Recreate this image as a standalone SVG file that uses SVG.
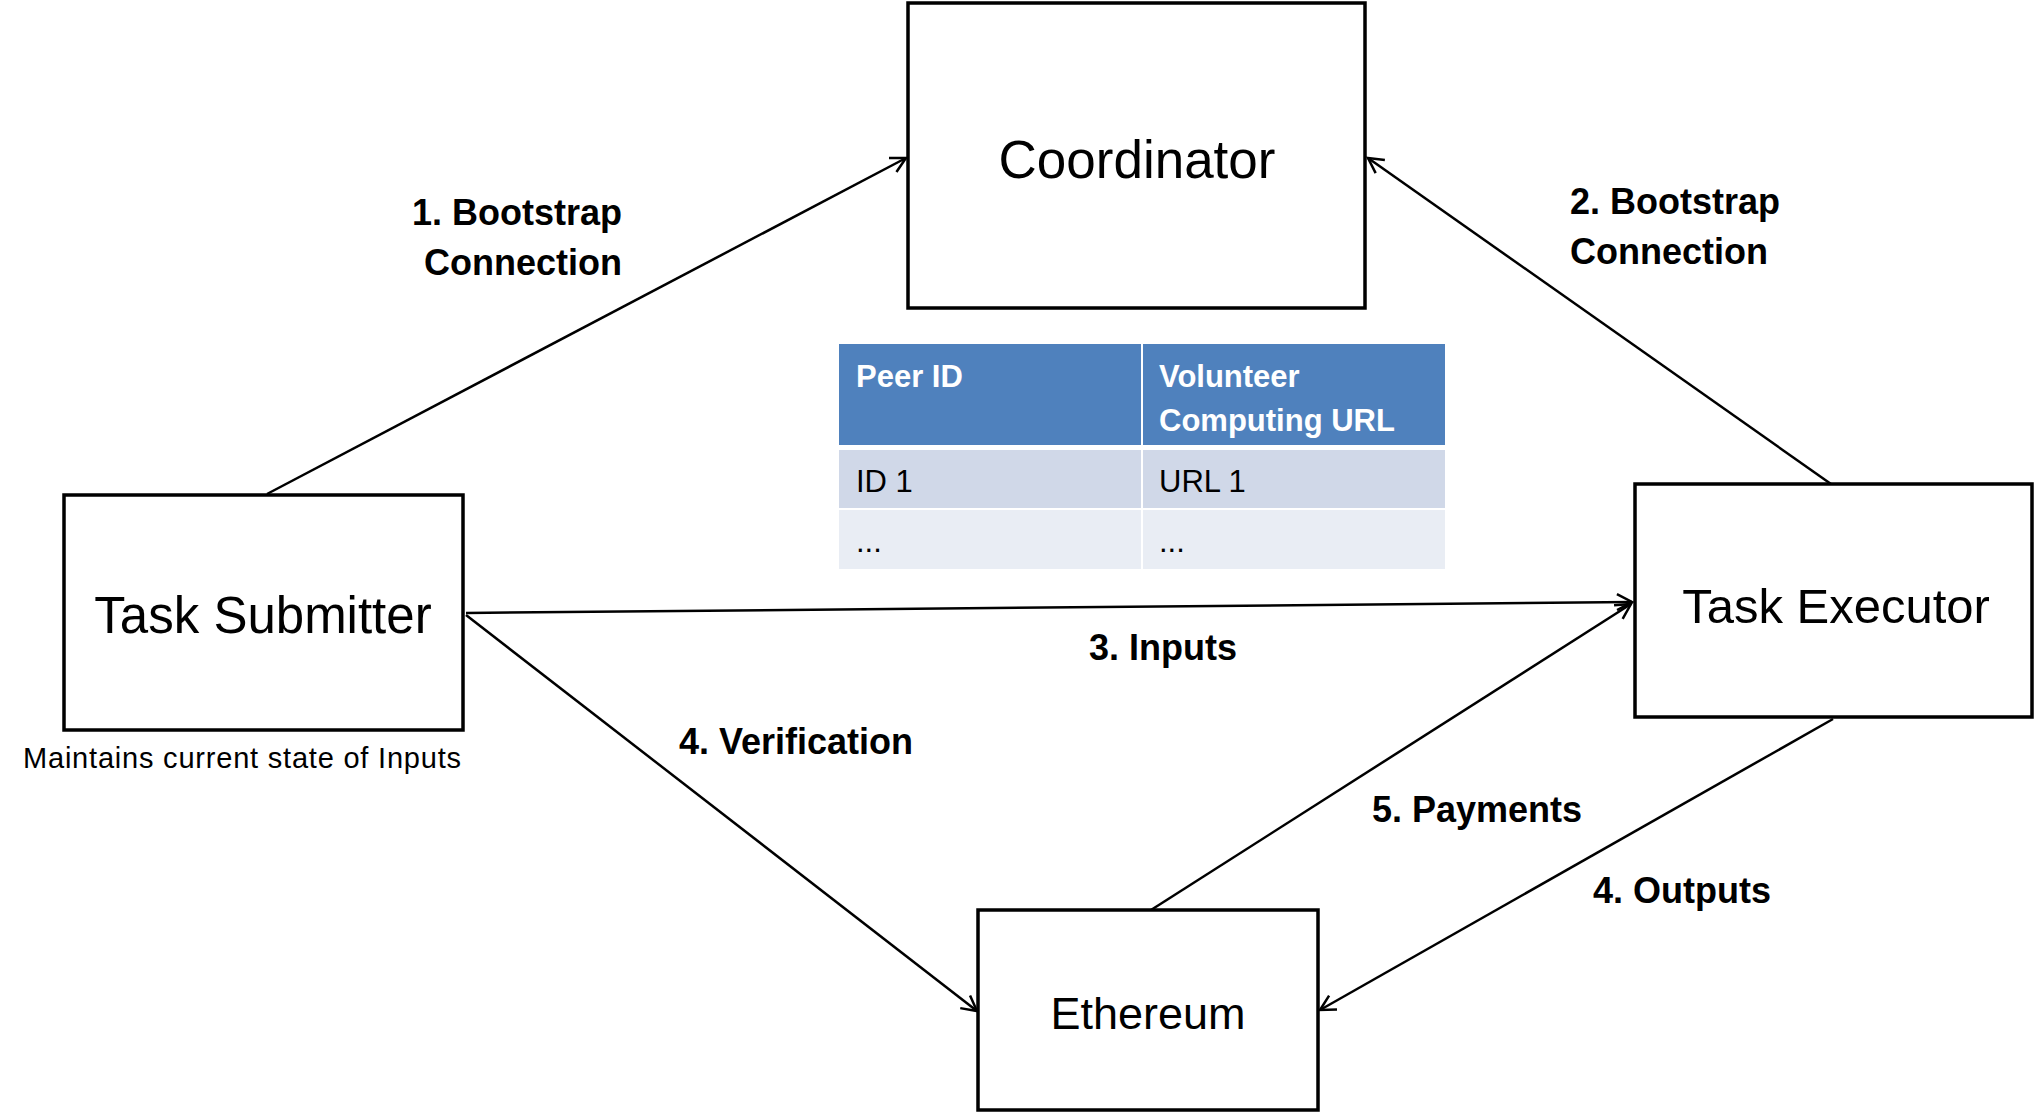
<svg xmlns="http://www.w3.org/2000/svg" width="2036" height="1114" viewBox="0 0 2036 1114">
<defs>
<style>
.box{fill:#fff;stroke:#000;stroke-width:3.5}
.node{font-family:"Liberation Sans",Arial,sans-serif;fill:#000;text-anchor:middle}
.lbl{font-family:"Liberation Sans",Arial,sans-serif;font-weight:bold;font-size:36px;fill:#000}
.conn{stroke:#000;stroke-width:2.5;fill:none;marker-end:url(#arr)}
.th{font-family:"Liberation Sans",Arial,sans-serif;font-weight:bold;font-size:31px;fill:#fff}
.td{font-family:"Liberation Sans",Arial,sans-serif;font-size:31px;fill:#000}
</style>
<marker id="arr" markerUnits="userSpaceOnUse" markerWidth="30" markerHeight="30" viewBox="-20 -15 30 30" refX="0" refY="0" orient="auto">
<path d="M-15,-8 L0,0 L-15,8" fill="none" stroke="#000" stroke-width="2.5"/>
</marker>
</defs>
<rect width="2036" height="1114" fill="#fff"/>

<g id="connectors">
<line class="conn" x1="267" y1="494" x2="906" y2="158"/>
<line class="conn" x1="1831" y1="484" x2="1368" y2="158"/>
<line class="conn" x1="466" y1="613" x2="1632" y2="602"/>
<line class="conn" x1="466" y1="615" x2="977" y2="1011"/>
<line class="conn" x1="1151" y1="910" x2="1631" y2="604"/>
<line class="conn" x1="1833" y1="719" x2="1320" y2="1010"/>
</g>

<g id="labels">
<text class="lbl" x="622" y="225" text-anchor="end">1. Bootstrap</text>
<text class="lbl" x="622" y="275" text-anchor="end">Connection</text>
<text class="lbl" x="1570" y="214">2. Bootstrap</text>
<text class="lbl" x="1570" y="264">Connection</text>
<text class="lbl" x="1089" y="660">3. Inputs</text>
<text class="lbl" x="679" y="754">4. Verification</text>
<text class="lbl" x="1372" y="822">5. Payments</text>
<text class="lbl" x="1593" y="903">4. Outputs</text>
</g>

<g id="coordinator">
<rect class="box" x="908" y="3" width="457" height="305"/>
<text class="node" x="1137" y="178" font-size="53">Coordinator</text>
</g>

<g id="task-submitter">
<rect class="box" x="64" y="495" width="399" height="235"/>
<text class="node" x="263" y="633" font-size="51">Task Submitter</text>
<text x="23" y="768" font-family="'Liberation Sans',Arial,sans-serif" font-size="29" textLength="438" lengthAdjust="spacing">Maintains current state of Inputs</text>
</g>

<g id="task-executor">
<rect class="box" x="1635" y="484" width="397" height="233"/>
<text class="node" x="1836" y="623" font-size="49">Task Executor</text>
</g>

<g id="ethereum">
<rect class="box" x="978" y="910" width="340" height="200"/>
<text class="node" x="1148" y="1029" font-size="45">Ethereum</text>
</g>

<g id="peer-table">
<rect x="839" y="344" width="302" height="101" fill="#4F81BD"/>
<rect x="1143" y="344" width="302" height="101" fill="#4F81BD"/>
<rect x="839" y="450" width="302" height="58" fill="#D0D8E8"/>
<rect x="1143" y="450" width="302" height="58" fill="#D0D8E8"/>
<rect x="839" y="510" width="302" height="59" fill="#E9EDF4"/>
<rect x="1143" y="510" width="302" height="59" fill="#E9EDF4"/>
<text class="th" x="856" y="387">Peer ID</text>
<text class="th" x="1159" y="387">Volunteer</text>
<text class="th" x="1159" y="431">Computing URL</text>
<text class="td" x="856" y="492">ID 1</text>
<text class="td" x="1159" y="492">URL 1</text>
<text class="td" x="856" y="552">...</text>
<text class="td" x="1159" y="552">...</text>
</g>
</svg>
